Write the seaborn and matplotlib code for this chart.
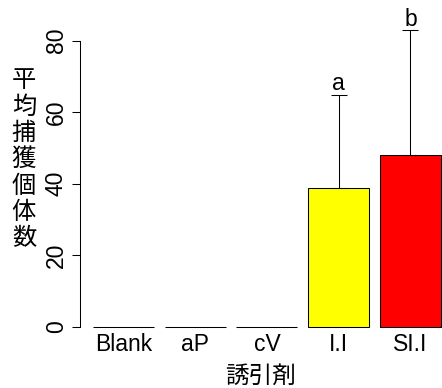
import matplotlib
matplotlib.use("Agg")
import matplotlib.pyplot as plt
import seaborn as sns
import pandas as pd
import numpy as np

# Mean catch per trap by attractant, with upper error bars and group letters
attractants = ["Blank", "aP", "cV", "I.I", "SI.I"]
mean_catch = [0.0, 0.0, 0.0, 38.7, 48.0]
error_up = [0.0, 0.0, 0.0, 26.1, 34.9]
group_letters = ["", "", "", "a", "b"]
bar_colors = ["white", "white", "white", "#FFFF00", "#FF0000"]
y_ticks = [0, 20, 40, 60, 80]

sns.set_theme(style="white")
plt.rcParams["font.family"] = ["Liberation Sans", "Noto Sans CJK JP", "DejaVu Sans"]
plt.rcParams["text.color"] = "black"
plt.rcParams["axes.labelcolor"] = "black"
plt.rcParams["xtick.color"] = "black"
plt.rcParams["ytick.color"] = "black"

df = pd.DataFrame({"attractant": attractants, "mean": mean_catch})

fig = plt.figure(figsize=(4.42, 3.88), dpi=100)
ax = fig.add_axes([80 / 442, 0.1492, 362 / 442, 0.8201])

sns.barplot(data=df, x="attractant", y="mean", hue="attractant",
            palette=dict(zip(attractants, bar_colors)), order=attractants,
            width=0.85, edgecolor="black", linewidth=0.75, saturation=1,
            errorbar=None, legend=False, ax=ax)

pos = np.arange(len(attractants))
has_err = [e > 0 for e in error_up]
ex = pos[has_err]
ey = np.array(mean_catch)[has_err]
ee = np.array(error_up)[has_err]
ax.errorbar(ex, ey, yerr=[np.zeros_like(ee), ee], fmt="none",
            ecolor="black", elinewidth=0.75, capsize=5.8, capthick=0.75)

for x, m, e, lab in zip(pos, mean_catch, error_up, group_letters):
    if lab:
        ax.annotate(lab, xy=(x, m + e), xytext=(0, 3.2), textcoords="offset points",
                    ha="center", va="baseline", fontsize=16.5, color="black")

ax.set_xlim(-0.606, 4.439)
ax.set_ylim(-1, 88)

for s in ["top", "right", "bottom"]:
    ax.spines[s].set_visible(False)
ax.spines["left"].set_bounds(0, 80)
ax.spines["left"].set_color("black")
ax.spines["left"].set_linewidth(0.75)

ax.set_yticks(y_ticks)
ax.set_yticklabels([str(t) for t in y_ticks], rotation=90, va="center")
ax.tick_params(axis="y", left=True, length=5.8, width=0.75, color="black",
               labelcolor="black", pad=3, labelsize=16.5)
ax.tick_params(axis="x", bottom=False, length=0, pad=2, labelsize=16.5,
               labelcolor="black")

ax.set_xlabel("誘引剤", fontsize=17, color="black")
ax.xaxis.set_label_coords(0.5, -0.148)
ax.xaxis.label.set_va("center")

ax.set_ylabel("\n".join("平均捕獲個体数"), rotation=0, fontsize=17.5,
              linespacing=1.22, ha="center", va="center", color="black")
ax.yaxis.set_label_coords(-0.155, 0.535)

fig.savefig("out.png", dpi=100)
